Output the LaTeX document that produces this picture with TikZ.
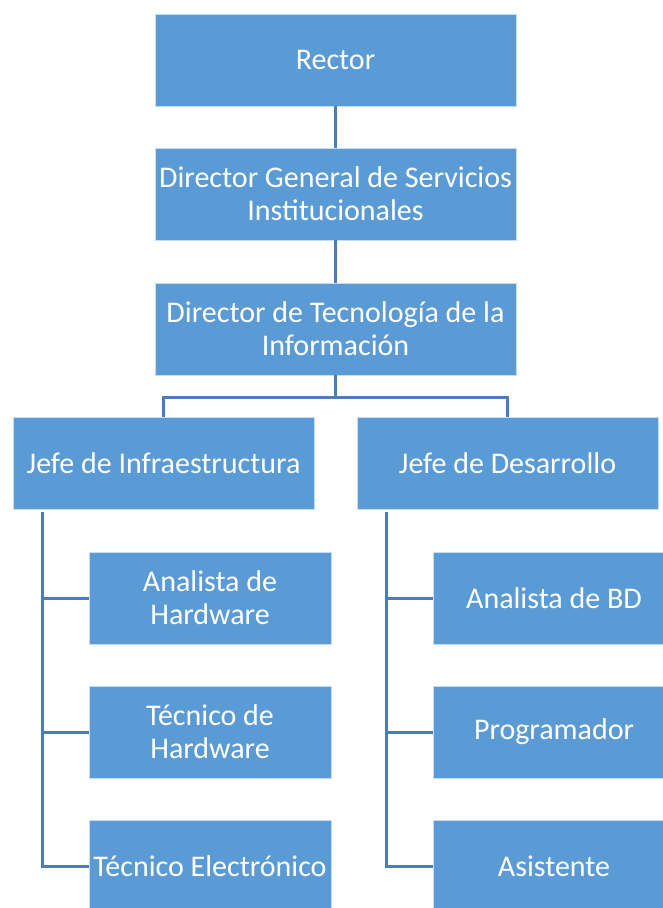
\documentclass[tikz,border=0pt]{standalone}
\usepackage{fontspec}
\setmainfont{Carlito}
\definecolor{boxblue}{HTML}{5B9BD5}
\definecolor{lineblue}{HTML}{4A7EBB}
\tikzset{
  post/.style={draw=white!65!boxblue, line width=0.8pt, fill=boxblue, text=white,
    align=center, inner sep=0pt, minimum height=92pt,
    font=\fontsize{30}{33}\selectfont},
  link/.style={draw=lineblue, line width=3pt}
}
\begin{document}
\begin{tikzpicture}[x=1pt,y=-1pt]
\useasboundingbox (0,0) rectangle (663,908);
% top of the chart
\node (rector) [post, minimum width=361pt] at (335.5,60) {Rector};
\node (dirgen) [post, minimum width=361pt] at (335.5,194) {Director General de Servicios\\Institucionales};
\node (dirti) [post, minimum width=361pt] at (335.5,329) {Director de Tecnología de la\\Información};
\node (jefeinf) [post, minimum width=301pt] at (163.5,463) {Jefe de Infraestructura};
\node (jefedes) [post, minimum width=301pt] at (507.5,463) {Jefe de Desarrollo};
% staff under each head
\node (anahw) [post, minimum width=242pt] at (210,598) {Analista de\\Hardware};
\node (techw) [post, minimum width=242pt] at (210,732) {Técnico de\\Hardware};
\node (tecele) [post, minimum width=242pt] at (210,866) {Técnico Electrónico};
\node (anabd) [post, minimum width=242pt] at (554,598) {Analista de BD};
\node (prog) [post, minimum width=242pt] at (554,732) {Programador};
\node (asist) [post, minimum width=242pt] at (554,866) {Asistente};
% connectors
\coordinate (split) at (335.5,397);
\coordinate (infbus) at (42,512);
\coordinate (desbus) at (386.5,512);
\draw [link] (rector) -- (dirgen);
\draw [link] (dirgen) -- (dirti);
\draw [link] (dirti) -- (split);
\draw [link] (jefeinf.north) |- (split) -| (jefedes.north);
\draw [link] (infbus) |- (tecele.west);
\draw [link] (infbus |- anahw) -- (anahw.west);
\draw [link] (infbus |- techw) -- (techw.west);
\draw [link] (desbus) |- (asist.west);
\draw [link] (desbus |- anabd) -- (anabd.west);
\draw [link] (desbus |- prog) -- (prog.west);
\end{tikzpicture}
\end{document}
